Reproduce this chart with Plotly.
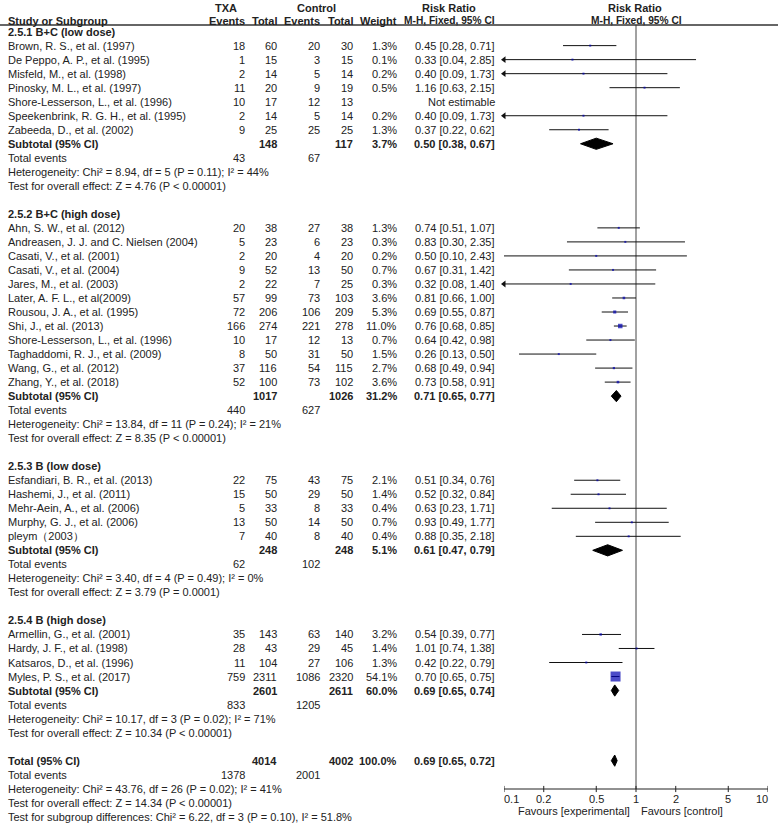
import numpy as np
import plotly.graph_objects as go

# ---------------- data ----------------
subgroup_titles = ["2.5.1 B+C (low dose)", "2.5.2 B+C (high dose)",
                   "2.5.3 B (low dose)", "2.5.4 B (high dose)"]

study_names = [
    "Brown, R. S., et al. (1997)", "De Peppo, A. P., et al. (1995)", "Misfeld, M., et al. (1998)",
    "Pinosky, M. L., et al. (1997)", "Shore-Lesserson, L., et al. (1996)",
    "Speekenbrink, R. G. H., et al. (1995)", "Zabeeda, D., et al. (2002)",
    "Ahn, S. W., et al. (2012)", "Andreasen, J. J. and C. Nielsen (2004)", "Casati, V., et al. (2001)",
    "Casati, V., et al. (2004)", "Jares, M., et al. (2003)", "Later, A. F. L., et al(2009)",
    "Rousou, J. A., et al. (1995)", "Shi, J., et al. (2013)", "Shore-Lesserson, L., et al. (1996)",
    "Taghaddomi, R. J., et al. (2009)", "Wang, G., et al. (2012)", "Zhang, Y., et al. (2018)",
    "Esfandiari, B. R., et al. (2013)", "Hashemi, J., et al. (2011)", "Mehr-Aein, A., et al. (2006)",
    "Murphy, G. J., et al. (2006)", "pleym（2003）",
    "Armellin, G., et al. (2001)", "Hardy, J. F., et al. (1998)", "Katsaros, D., et al. (1996)",
    "Myles, P. S., et al. (2017)",
]
study_group = [0] * 7 + [1] * 12 + [2] * 5 + [3] * 4
ev_txa = [18, 1, 2, 11, 10, 2, 9,
          20, 5, 2, 9, 2, 57, 72, 166, 10, 8, 37, 52,
          22, 15, 5, 13, 7,
          35, 28, 11, 759]
tot_txa = [60, 15, 14, 20, 17, 14, 25,
           38, 23, 20, 52, 22, 99, 206, 274, 17, 50, 116, 100,
           75, 50, 33, 50, 40,
           143, 43, 104, 2311]
ev_ctl = [20, 3, 5, 9, 12, 5, 25,
          27, 6, 4, 13, 7, 73, 106, 221, 12, 31, 54, 73,
          43, 29, 8, 14, 8,
          63, 29, 27, 1086]
tot_ctl = [30, 15, 14, 19, 13, 14, 25,
           38, 23, 20, 50, 25, 103, 209, 278, 13, 50, 115, 102,
           75, 50, 33, 50, 40,
           140, 45, 106, 2320]
weight_pct = [1.3, 0.1, 0.2, 0.5, None, 0.2, 1.3,
              1.3, 0.3, 0.2, 0.7, 0.3, 3.6, 5.3, 11.0, 0.7, 1.5, 2.7, 3.6,
              2.1, 1.4, 0.4, 0.7, 0.4,
              3.2, 1.4, 1.3, 54.1]
rr = [0.45, 0.33, 0.40, 1.16, None, 0.40, 0.37,
      0.74, 0.83, 0.50, 0.67, 0.32, 0.81, 0.69, 0.76, 0.64, 0.26, 0.68, 0.73,
      0.51, 0.52, 0.63, 0.93, 0.88,
      0.54, 1.01, 0.42, 0.70]
ci_lo = [0.28, 0.04, 0.09, 0.63, None, 0.09, 0.22,
         0.51, 0.30, 0.10, 0.31, 0.08, 0.66, 0.55, 0.68, 0.42, 0.13, 0.49, 0.58,
         0.34, 0.32, 0.23, 0.49, 0.35,
         0.39, 0.74, 0.22, 0.65]
ci_hi = [0.71, 2.85, 1.73, 2.15, None, 1.73, 0.62,
         1.07, 2.35, 2.43, 1.42, 1.40, 1.00, 0.87, 0.85, 0.98, 0.50, 0.94, 0.91,
         0.76, 0.84, 1.71, 1.77, 2.18,
         0.77, 1.38, 0.79, 0.75]

sub_total_txa = [148, 1017, 248, 2601]
sub_total_ctl = [117, 1026, 248, 2611]
sub_weight = [3.7, 31.2, 5.1, 60.0]
sub_rr = [0.50, 0.71, 0.61, 0.69]
sub_lo = [0.38, 0.65, 0.47, 0.65]
sub_hi = [0.67, 0.77, 0.79, 0.74]
sub_events_txa = [43, 440, 62, 833]
sub_events_ctl = [67, 627, 102, 1205]
sub_heterogeneity = [
    "Chi² = 8.94, df = 5 (P = 0.11); I² = 44%",
    "Chi² = 13.84, df = 11 (P = 0.24); I² = 21%",
    "Chi² = 3.40, df = 4 (P = 0.49); I² = 0%",
    "Chi² = 10.17, df = 3 (P = 0.02); I² = 71%",
]
sub_overall = [
    "Z = 4.76 (P &lt; 0.00001)",
    "Z = 8.35 (P &lt; 0.00001)",
    "Z = 3.79 (P = 0.0001)",
    "Z = 10.34 (P &lt; 0.00001)",
]

total_txa, total_ctl, total_weight = 4014, 4002, 100.0
total_rr, total_lo, total_hi = 0.69, 0.65, 0.72
total_events_txa, total_events_ctl = 1378, 2001
total_heterogeneity = "Chi² = 43.76, df = 26 (P = 0.02); I² = 41%"
total_overall = "Z = 14.34 (P &lt; 0.00001)"
subgroup_difference = "Chi² = 6.22, df = 3 (P = 0.10), I² = 51.8%"

axis_ticks = [0.1, 0.2, 0.5, 1, 2, 5, 10]
axis_tick_labels = ["0.1", "0.2", "0.5", "1", "2", "5", "10"]

# ---------------- layout helpers ----------------
W, H = 778, 824
Y0, DY = 31.6, 14.02
FONT = "Arial, 'Liberation Sans', sans-serif"
TXT = "#222222"
FS = 11
X_NAME, X_EVT, X_TOTT, X_EVC, X_TOTC, X_W, X_RR = 8, 245, 277, 320, 353, 397, 495
AX_ROW = (789 - Y0) / DY


def prow(pixel):
    return (pixel - Y0) / DY


annotations = []


def txt(x, r, s, anchor="right", bold=False, xref="paper", size=FS):
    annotations.append(dict(
        x=x / W if xref == "paper" else x, xref=xref, y=r, yref="y",
        text=f"<b>{s}</b>" if bold else s, showarrow=False,
        xanchor=anchor, yanchor="middle", borderpad=0, borderwidth=0,
        font=dict(size=size, color=TXT, family=FONT)))


def rr_text(v, lo, hi):
    return f"{v:.2f} [{lo:.2f}, {hi:.2f}]"


# header
txt(226, prow(8), "TXA", "center", True)
txt(316, prow(8), "Control", "center", True)
txt(449, prow(8), "Risk Ratio", "center", True)
txt(635, prow(8), "Risk Ratio", "center", True)
hr = prow(20.5)
txt(X_NAME, hr, "Study or Subgroup", "left", True)
for xx, s in [(X_EVT, "Events"), (X_TOTT, "Total"), (X_EVC, "Events"), (X_TOTC, "Total"),
              (X_W, "Weight")]:
    txt(xx, hr, s, "right", True)
txt(X_RR, hr, "M-H, Fixed, 95% CI", "right", True, size=10.2)
txt(636, hr, "M-H, Fixed, 95% CI", "center", True, size=10.2)

# rows
ci_x, ci_y = [], []
arr_x, arr_y = [], []
mk_x, mk_y, mk_s = [], [], []
dia_x, dia_y = [], []


def add_diamond(r, v, lo, hi):
    h = 0.4
    dia_x.extend([lo, v, hi, v, lo, None])
    dia_y.extend([r, r - h, r, r + h, r, None])


row = 0
for g, title in enumerate(subgroup_titles):
    txt(X_NAME, row, title, "left", True)
    row += 1
    for i in [k for k, gg in enumerate(study_group) if gg == g]:
        txt(X_NAME, row, study_names[i], "left")
        txt(X_EVT, row, str(ev_txa[i]))
        txt(X_TOTT, row, str(tot_txa[i]))
        txt(X_EVC, row, str(ev_ctl[i]))
        txt(X_TOTC, row, str(tot_ctl[i]))
        if weight_pct[i] is not None:
            txt(X_W, row, f"{weight_pct[i]:.1f}%")
        if rr[i] is None:
            txt(X_RR, row, "Not estimable")
        else:
            txt(X_RR, row, rr_text(rr[i], ci_lo[i], ci_hi[i]))
            lo = max(ci_lo[i], axis_ticks[0])
            hi = min(ci_hi[i], axis_ticks[-1])
            ci_x.extend([lo, hi, None])
            ci_y.extend([row, row, None])
            if ci_lo[i] < axis_ticks[0]:
                arr_x.append(axis_ticks[0])
                arr_y.append(row)
            mk_x.append(rr[i])
            mk_y.append(row)
            mk_s.append(max(2.0, 10.0 * np.sqrt(weight_pct[i] / 54.1)))
        row += 1
    txt(X_NAME, row, "Subtotal (95% CI)", "left", True)
    txt(X_TOTT, row, str(sub_total_txa[g]), bold=True)
    txt(X_TOTC, row, str(sub_total_ctl[g]), bold=True)
    txt(X_W, row, f"{sub_weight[g]:.1f}%", bold=True)
    txt(X_RR, row, rr_text(sub_rr[g], sub_lo[g], sub_hi[g]), bold=True)
    add_diamond(row, sub_rr[g], sub_lo[g], sub_hi[g])
    row += 1
    txt(X_NAME, row, "Total events", "left")
    txt(X_EVT, row, str(sub_events_txa[g]))
    txt(X_EVC, row, str(sub_events_ctl[g]))
    row += 1
    txt(X_NAME, row, "Heterogeneity: " + sub_heterogeneity[g], "left")
    row += 1
    txt(X_NAME, row, "Test for overall effect: " + sub_overall[g], "left")
    row += 2

txt(X_NAME, row, "Total (95% CI)", "left", True)
txt(X_TOTT, row, str(total_txa), bold=True)
txt(X_TOTC, row, str(total_ctl), bold=True)
txt(X_W, row, f"{total_weight:.1f}%", bold=True)
txt(X_RR, row, rr_text(total_rr, total_lo, total_hi), bold=True)
add_diamond(row, total_rr, total_lo, total_hi)
row += 1
txt(X_NAME, row, "Total events", "left")
txt(X_EVT, row, str(total_events_txa))
txt(X_EVC, row, str(total_events_ctl))
row += 1
txt(X_NAME, row, "Heterogeneity: " + total_heterogeneity, "left")
row += 1
txt(X_NAME, row, "Test for overall effect: " + total_overall, "left")
row += 1
txt(X_NAME, row, "Test for subgroup differences: " + subgroup_difference, "left")

# axis tick labels & favours
for k, (t, lab) in enumerate(zip(axis_ticks, axis_tick_labels)):
    anc = "left" if k == 0 else ("right" if k == len(axis_ticks) - 1 else "center")
    txt(np.log10(t), prow(799), lab, anc, xref="x")
txt(630, prow(811), "Favours [experimental]", "right")
txt(641, prow(811), "Favours [control]", "left")

fig = go.Figure()
# vertical line of no effect
fig.add_trace(go.Scatter(x=[1, 1], y=[prow(25), AX_ROW], mode="lines",
                         line=dict(color="#444444", width=1), cliponaxis=False, hoverinfo="skip"))
# axis line + ticks
tx, ty = [axis_ticks[0], axis_ticks[-1], None], [AX_ROW, AX_ROW, None]
for t in axis_ticks:
    tx.extend([t, t, None])
    ty.extend([AX_ROW - 0.22, AX_ROW + 0.22, None])
fig.add_trace(go.Scatter(x=tx, y=ty, mode="lines", line=dict(color="#222222", width=1),
                         cliponaxis=False, hoverinfo="skip"))
# CI lines
fig.add_trace(go.Scatter(x=ci_x, y=ci_y, mode="lines", line=dict(color="#111111", width=1),
                         cliponaxis=False, hoverinfo="skip"))
# arrows
fig.add_trace(go.Scatter(x=arr_x, y=arr_y, mode="markers",
                         marker=dict(symbol="triangle-left", size=6, color="#111111", line=dict(width=0)),
                         cliponaxis=False, hoverinfo="skip"))
# study squares
fig.add_trace(go.Scatter(x=mk_x, y=mk_y, mode="markers",
                         marker=dict(symbol="square", size=mk_s, color="#0000b0", line=dict(width=0)),
                         cliponaxis=False))
# diamonds
fig.add_trace(go.Scatter(x=dia_x, y=dia_y, mode="lines", fill="toself", fillcolor="#000000",
                         line=dict(color="#000000", width=1), cliponaxis=False, hoverinfo="skip"))

fig.update_layout(
    width=W, height=H, margin=dict(l=0, r=0, t=0, b=0),
    paper_bgcolor="white", plot_bgcolor="white", showlegend=False,
    xaxis=dict(type="log", range=[-1, 1], domain=[504 / W, 768 / W], visible=False),
    yaxis=dict(range=[(H - Y0) / DY, -Y0 / DY], domain=[0, 1], visible=False),
    annotations=annotations,
    shapes=[dict(type="line", xref="paper", x0=0, x1=1, yref="y", y0=prow(25), y1=prow(25),
                 line=dict(color="#333333", width=1.5))],
)

fig.write_html("out.html", config={"displayModeBar": False},
               post_script="document.body.style.margin='0px';document.body.style.overflow='hidden';")
